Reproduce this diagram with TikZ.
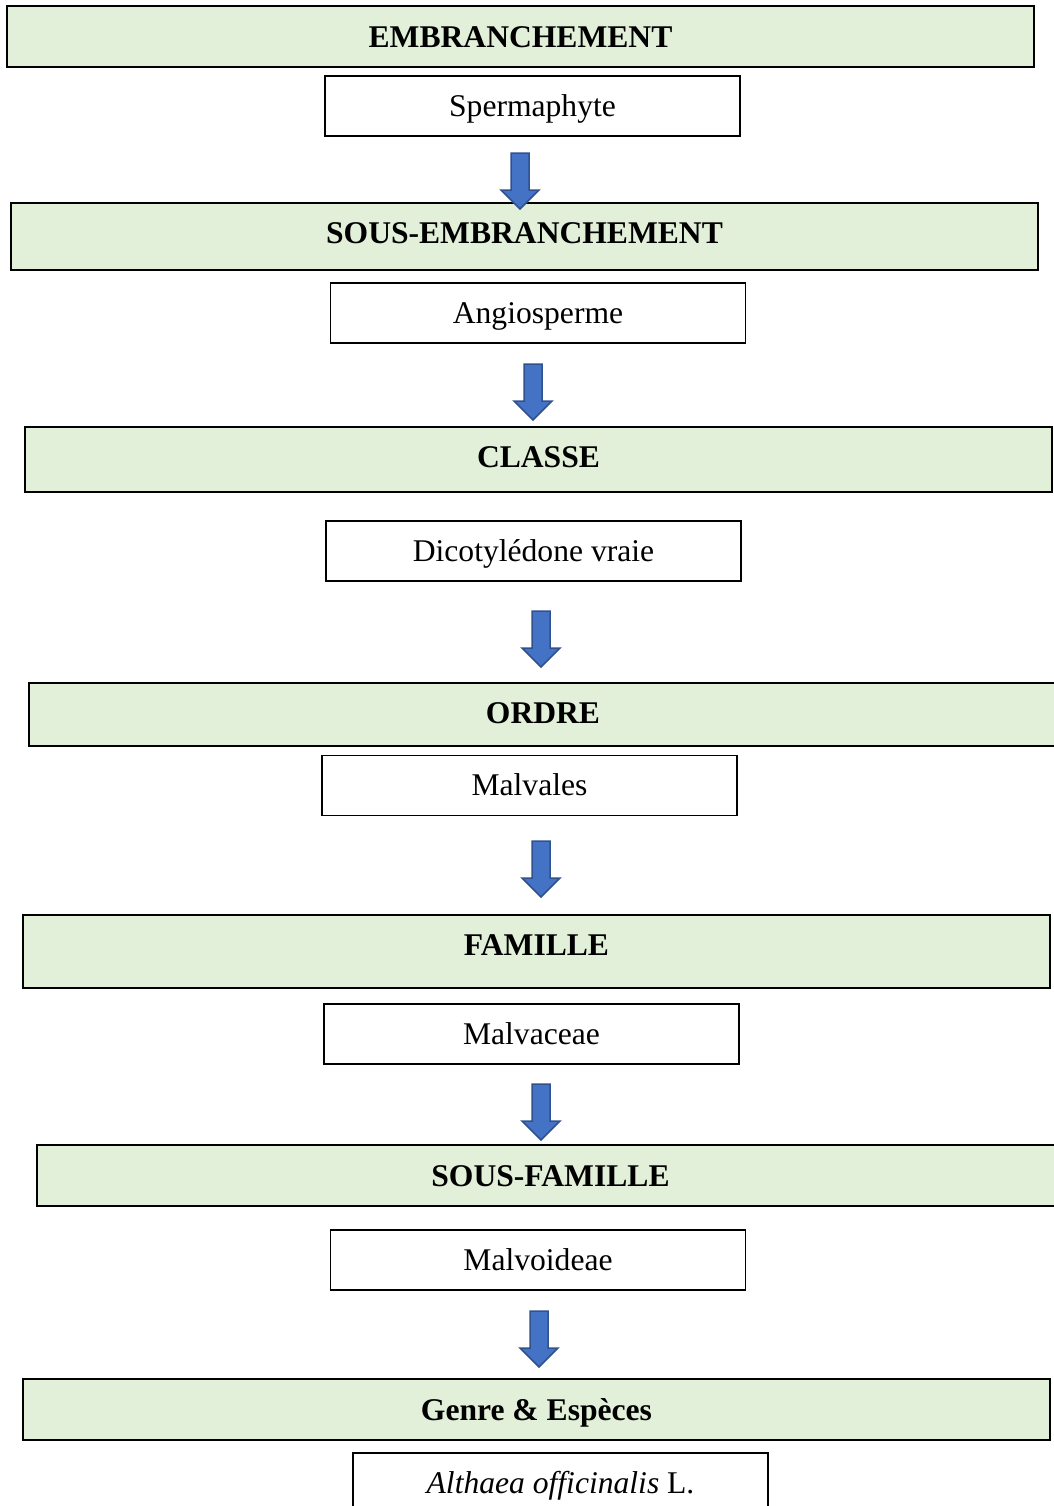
\documentclass[tikz,border=0pt]{standalone}
\usepackage{fontspec}
\setmainfont{Liberation Serif}

\definecolor{rankgreen}{HTML}{E2EFD9}
\definecolor{arrowblue}{HTML}{4472C4}
\definecolor{arrowline}{HTML}{2F528F}

\tikzstyle{rank} = [draw, rectangle, line width=1pt, fill=rankgreen, text centered, minimum width=513.5pt, minimum height=30.5pt, inner sep=0pt, text height=10.5pt, text depth=0pt, font=\fontsize{15.8pt}{19pt}\selectfont\bfseries]
\tikzstyle{taxon} = [draw, rectangle, line width=0.75pt, fill=white, text centered, minimum width=207.5pt, minimum height=30pt, inner sep=0pt, text height=13.5pt, text depth=3.5pt, font=\fontsize{15.8pt}{19pt}\selectfont]
\tikzstyle{blockarrow} = [fill=arrowblue, draw=arrowline, line width=0.75pt, line join=miter]

% block arrow hanging from a named coordinate
\newcommand{\blockarrow}[1]{\filldraw [blockarrow] (#1) ++(-9,0) -- ++(18,0) -- ++(0,37) -- ++(10,0) -- ++(-19,19) -- ++(-19,-19) -- ++(10,0) -- cycle;}

\begin{document}
\begin{tikzpicture}[x=0.5pt, y=-0.5pt]
	\clip (0,0) rectangle (1054,1506);

	\node [rank] (embr) at (520.5,36.5) {EMBRANCHEMENT};
	\node [taxon] (sperma) at (532.5,106) {Spermaphyte};
	\node [rank, minimum height=33.5pt, text depth=3.5pt] (sousembr) at (524.5,236.5) {SOUS-EMBRANCHEMENT};
	\node [taxon] (angio) at (538,313) {Angiosperme};
	\node [rank, minimum height=32.5pt, text depth=2.5pt] (classe) at (538.5,459.5) {CLASSE};
	\node [taxon] (dicot) at (533.5,551) {Dicotylédone vraie};
	\node [rank, minimum width=514pt, minimum height=31.5pt, text depth=1.5pt] (ordre) at (543,714.5) {ORDRE};
	\node [taxon] (malvales) at (529.5,785.5) {Malvales};
	\node [rank, minimum height=36.5pt, text depth=6.5pt] (famille) at (536.5,951.5) {FAMILLE};
	\node [taxon] (malvaceae) at (531.5,1034) {Malvaceae};
	\node [rank] (sousfam) at (550.5,1175.5) {SOUS-FAMILLE};
	\node [taxon] (malvoideae) at (538,1260) {Malvoideae};
	\node [rank] (genre) at (536.5,1409.5) {Genre \& Espèces};
	\node [taxon] (althaea) at (560.5,1483) {\textit{Althaea officinalis} L.};

	\coordinate (a1) at (520,153);
	\coordinate (a2) at (533,364);
	\coordinate (a3) at (541,611);
	\coordinate (a4) at (541,841);
	\coordinate (a5) at (541,1084);
	\coordinate (a6) at (539,1311);
	\foreach \a in {a1,a2,a3,a4,a5,a6} {\blockarrow{\a}}
\end{tikzpicture}
\end{document}
